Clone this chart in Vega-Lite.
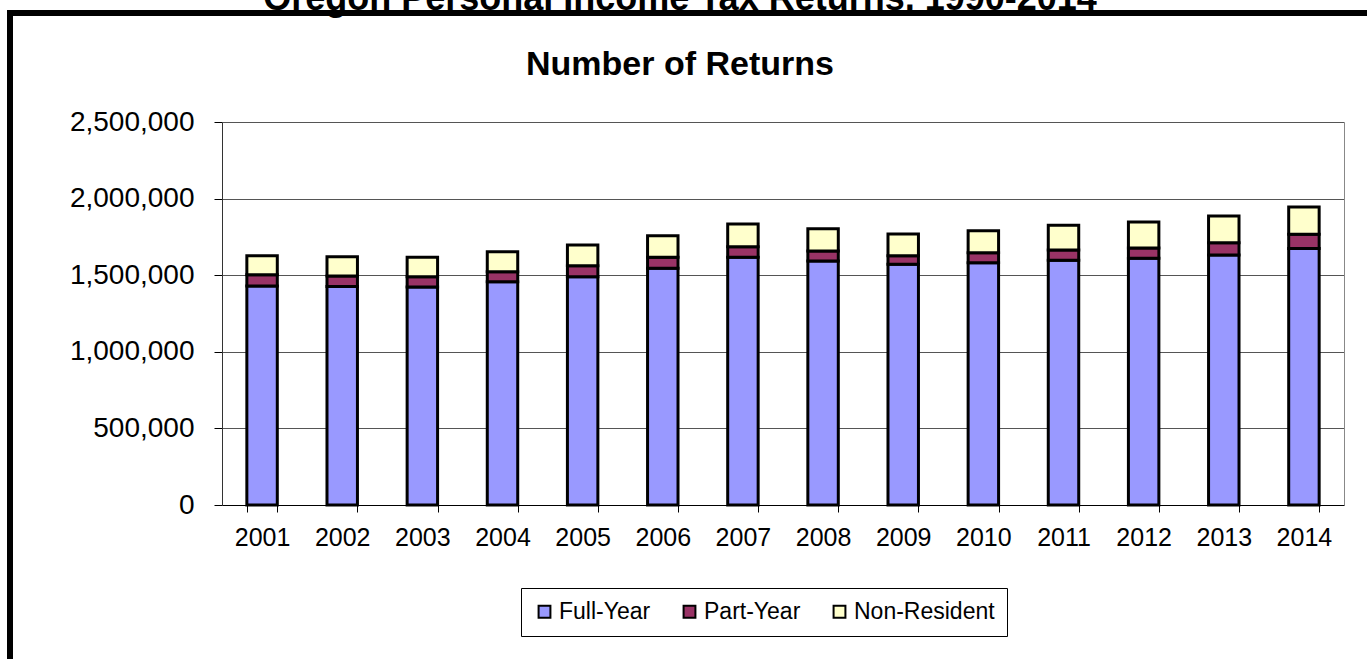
{
  "$schema": "https://vega.github.io/schema/vega-lite/v6.json",
  "width": 1360,
  "height": 650,
  "autosize": {"type": "none"},
  "padding": {"left": 10, "top": 13, "right": -3, "bottom": -4},
  "background": "white",
  "title": {
    "text": "Oregon Personal Income Tax Returns, 1990-2014",
    "subtitle": "Number of Returns",
    "anchor": "middle",
    "frame": "group",
    "font": "Liberation Sans",
    "fontSize": 36,
    "fontWeight": "bold",
    "color": "#000",
    "subtitleFont": "Liberation Sans",
    "subtitleFontSize": 34,
    "subtitleFontWeight": "bold",
    "subtitleColor": "#000",
    "subtitlePadding": 30,
    "offset": -70,
    "dx": -10
  },
  "config": {
    "view": {"stroke": "#000", "strokeWidth": 6, "fill": "white"},
    "font": "Liberation Sans"
  },
  "data": {
    "values": [
      {"year": "2001", "type": "Full-Year", "rank": 1, "count": 1429000},
      {"year": "2001", "type": "Part-Year", "rank": 2, "count": 74000},
      {"year": "2001", "type": "Non-Resident", "rank": 3, "count": 124000},
      {"year": "2002", "type": "Full-Year", "rank": 1, "count": 1427000},
      {"year": "2002", "type": "Part-Year", "rank": 2, "count": 68000},
      {"year": "2002", "type": "Non-Resident", "rank": 3, "count": 126000},
      {"year": "2003", "type": "Full-Year", "rank": 1, "count": 1423000},
      {"year": "2003", "type": "Part-Year", "rank": 2, "count": 67000},
      {"year": "2003", "type": "Non-Resident", "rank": 3, "count": 127000},
      {"year": "2004", "type": "Full-Year", "rank": 1, "count": 1457000},
      {"year": "2004", "type": "Part-Year", "rank": 2, "count": 66000},
      {"year": "2004", "type": "Non-Resident", "rank": 3, "count": 130000},
      {"year": "2005", "type": "Full-Year", "rank": 1, "count": 1490000},
      {"year": "2005", "type": "Part-Year", "rank": 2, "count": 72000},
      {"year": "2005", "type": "Non-Resident", "rank": 3, "count": 135000},
      {"year": "2006", "type": "Full-Year", "rank": 1, "count": 1545000},
      {"year": "2006", "type": "Part-Year", "rank": 2, "count": 72000},
      {"year": "2006", "type": "Non-Resident", "rank": 3, "count": 141000},
      {"year": "2007", "type": "Full-Year", "rank": 1, "count": 1617000},
      {"year": "2007", "type": "Part-Year", "rank": 2, "count": 69000},
      {"year": "2007", "type": "Non-Resident", "rank": 3, "count": 148000},
      {"year": "2008", "type": "Full-Year", "rank": 1, "count": 1593000},
      {"year": "2008", "type": "Part-Year", "rank": 2, "count": 65000},
      {"year": "2008", "type": "Non-Resident", "rank": 3, "count": 146000},
      {"year": "2009", "type": "Full-Year", "rank": 1, "count": 1571000},
      {"year": "2009", "type": "Part-Year", "rank": 2, "count": 56000},
      {"year": "2009", "type": "Non-Resident", "rank": 3, "count": 142000},
      {"year": "2010", "type": "Full-Year", "rank": 1, "count": 1582000},
      {"year": "2010", "type": "Part-Year", "rank": 2, "count": 65000},
      {"year": "2010", "type": "Non-Resident", "rank": 3, "count": 143000},
      {"year": "2011", "type": "Full-Year", "rank": 1, "count": 1597000},
      {"year": "2011", "type": "Part-Year", "rank": 2, "count": 67000},
      {"year": "2011", "type": "Non-Resident", "rank": 3, "count": 162000},
      {"year": "2012", "type": "Full-Year", "rank": 1, "count": 1610000},
      {"year": "2012", "type": "Part-Year", "rank": 2, "count": 67000},
      {"year": "2012", "type": "Non-Resident", "rank": 3, "count": 170000},
      {"year": "2013", "type": "Full-Year", "rank": 1, "count": 1632000},
      {"year": "2013", "type": "Part-Year", "rank": 2, "count": 80000},
      {"year": "2013", "type": "Non-Resident", "rank": 3, "count": 174000},
      {"year": "2014", "type": "Full-Year", "rank": 1, "count": 1675000},
      {"year": "2014", "type": "Part-Year", "rank": 2, "count": 92000},
      {"year": "2014", "type": "Non-Resident", "rank": 3, "count": 178000}
    ]
  },
  "layer": [
    {
      "mark": {"type": "bar", "stroke": "#000", "strokeWidth": 3},
      "encoding": {
        "x": {
          "field": "year",
          "type": "ordinal",
          "scale": {"type": "band", "range": [212, 1334], "paddingInner": 0.62, "paddingOuter": 0.31},
          "axis": {
            "title": null,
            "labelAngle": 0,
            "tickBand": "extent",
            "domainColor": "#000",
            "tickColor": "#000",
            "tickSize": 7,
            "labelPadding": 13,
            "labelFontSize": 25,
            "labelColor": "#000",
            "labelFont": "Liberation Sans",
            "offset": -158,
            "grid": false
          }
        },
        "y": {
          "field": "count",
          "type": "quantitative",
          "stack": "zero",
          "scale": {"domain": [0, 2500000], "range": [492, 109], "nice": false, "zero": true},
          "axis": {
            "title": null,
            "values": [0, 500000, 1000000, 1500000, 2000000, 2500000],
            "format": ",d",
            "tickSize": 8,
            "tickColor": "#000",
            "domainColor": "#333",
            "labelPadding": 20,
            "labelFontSize": 28,
            "labelColor": "#000",
            "labelFont": "Liberation Sans",
            "gridColor": "#555",
            "offset": -212
          }
        },
        "color": {
          "field": "type",
          "type": "nominal",
          "scale": {"domain": ["Full-Year", "Part-Year", "Non-Resident"], "range": ["#9999FF", "#993366", "#FFFFCC"]},
          "legend": {
            "title": null,
            "orient": "none",
            "legendX": 511,
            "legendY": 575,
            "direction": "horizontal",
            "strokeColor": "#000",
            "padding": 12,
            "symbolType": "square",
            "symbolSize": 140,
            "symbolStrokeColor": "#000",
            "symbolStrokeWidth": 2,
            "symbolOpacity": 1,
            "labelFontSize": 23,
            "labelFont": "Liberation Sans",
            "labelColor": "#000",
            "labelOffset": 3,
            "columnPadding": 27
          }
        },
        "order": {"field": "rank", "type": "quantitative"}
      }
    },
    {
      "mark": {"type": "point", "opacity": 0},
      "encoding": {
        "y": {
          "field": "count",
          "type": "quantitative",
          "scale": {"domain": [0, 2500000], "range": [492, 109], "nice": false, "zero": true},
          "axis": {
            "orient": "right",
            "title": null,
            "labels": false,
            "ticks": false,
            "grid": false,
            "domainColor": "#888",
            "offset": -26
          }
        }
      }
    }
  ],
  "resolve": {"scale": {"y": "independent"}}
}
